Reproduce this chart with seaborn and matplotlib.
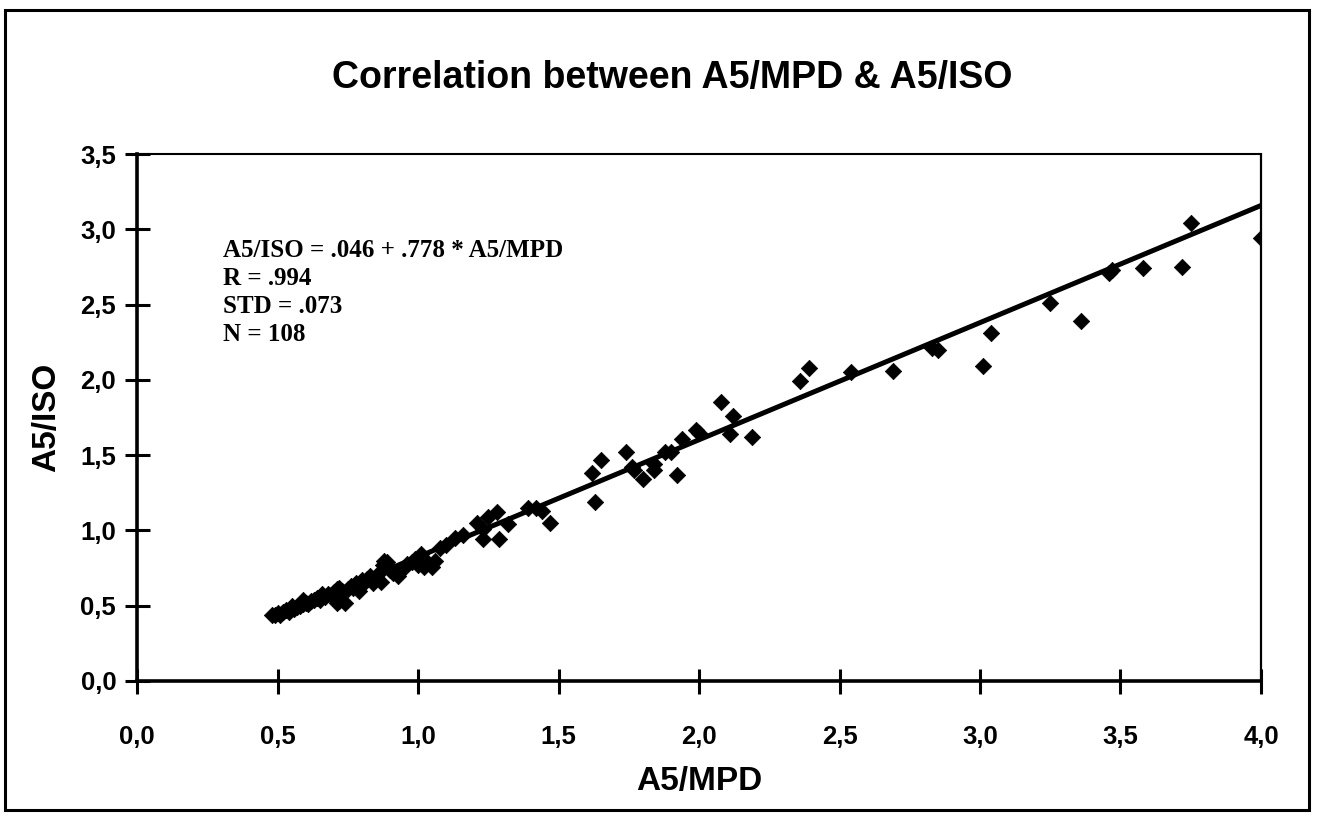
import matplotlib
matplotlib.use("Agg")
import matplotlib.pyplot as plt
from matplotlib.ticker import FuncFormatter, FixedLocator
from matplotlib.patches import Rectangle
import numpy as np
import pandas as pd
import seaborn as sns

# A5/MPD versus A5/ISO measurements
a5_mpd = [
    4.00, 3.75, 3.72, 3.58, 3.46, 3.47, 3.36, 3.25, 3.04, 3.01,
    2.85, 2.83, 2.69, 2.54, 2.39, 2.36, 2.19, 2.12, 2.11, 2.08,
    2.00, 1.99, 1.94, 1.90, 1.88, 1.92, 1.84, 1.84, 1.80, 1.76,
    1.77, 1.74, 1.65, 1.62, 1.63, 1.47, 1.44, 1.42, 1.39, 1.32,
    1.28, 1.29, 1.25, 1.21, 1.23, 1.23, 1.16, 1.13, 1.10, 1.08,
    1.06, 1.05, 1.03, 1.02, 1.01, 1.00, 0.99, 0.98, 0.96, 0.95,
    0.93, 0.91, 0.90, 0.89, 0.88, 0.875, 0.87, 0.86, 0.85, 0.84,
    0.83, 0.82, 0.81, 0.80, 0.79, 0.79, 0.78, 0.77, 0.76, 0.75,
    0.74, 0.73, 0.72, 0.72, 0.71, 0.71, 0.70, 0.69, 0.68, 0.67,
    0.66, 0.66, 0.65, 0.64, 0.63, 0.62, 0.61, 0.60, 0.59, 0.59,
    0.58, 0.57, 0.56, 0.55, 0.55, 0.54, 0.53, 0.52, 0.51, 0.50,
    0.49, 0.48,
]
a5_iso = [
    2.94, 3.04, 2.75, 2.74, 2.71, 2.73, 2.39, 2.51, 2.31, 2.09,
    2.20, 2.21, 2.06, 2.05, 2.08, 1.99, 1.62, 1.76, 1.64, 1.85,
    1.65, 1.67, 1.61, 1.52, 1.52, 1.37, 1.44, 1.40, 1.34, 1.42,
    1.40, 1.52, 1.47, 1.38, 1.19, 1.05, 1.13, 1.15, 1.15, 1.04,
    1.12, 0.94, 1.09, 1.05, 0.94, 1.01, 0.97, 0.95, 0.90, 0.88,
    0.80, 0.76, 0.80, 0.76, 0.84, 0.77, 0.81, 0.79, 0.78, 0.75,
    0.70, 0.72, 0.74, 0.79, 0.80, 0.77, 0.66, 0.72, 0.69, 0.65,
    0.70, 0.68, 0.66, 0.67, 0.64, 0.60, 0.65, 0.62, 0.63, 0.61,
    0.52, 0.60, 0.53, 0.62, 0.61, 0.52, 0.59, 0.57, 0.58, 0.56,
    0.58, 0.57, 0.54, 0.55, 0.54, 0.53, 0.51, 0.52, 0.51, 0.54,
    0.50, 0.49, 0.48, 0.50, 0.49, 0.46, 0.47, 0.46, 0.44, 0.45,
    0.44, 0.44,
]

# Regression statistics
intercept = 0.046
slope = 0.778
fit_range = [0.49, 4.02]
stats_lines = [
    "A5/ISO = .046 + .778 * A5/MPD",
    "R = .994",
    "STD = .073",
    "N = 108",
]

x_ticks = [0.0, 0.5, 1.0, 1.5, 2.0, 2.5, 3.0, 3.5, 4.0]
y_ticks = [0.0, 0.5, 1.0, 1.5, 2.0, 2.5, 3.0, 3.5]

title = "Correlation between A5/MPD & A5/ISO"
x_label = "A5/MPD"
y_label = "A5/ISO"

sns.set_theme(style="white")
plt.rcParams["font.family"] = ["Liberation Sans", "DejaVu Sans"]
plt.rcParams["text.color"] = "black"
plt.rcParams["axes.labelcolor"] = "black"
plt.rcParams["xtick.color"] = "black"
plt.rcParams["ytick.color"] = "black"

df = pd.DataFrame({"A5/MPD": a5_mpd, "A5/ISO": a5_iso})
fit_x = np.array(fit_range)
fit_df = pd.DataFrame({"x": fit_x, "y": intercept + slope * fit_x})

fig = plt.figure(figsize=(13.2, 8.17), dpi=100)
fig.patch.set_facecolor("white")
ax = fig.add_axes([0.1038, 0.1665, 0.8515, 0.645])

sns.lineplot(data=fit_df, x="x", y="y", ax=ax, color="black", lw=3.6, zorder=2)
sns.scatterplot(data=df, x="A5/MPD", y="A5/ISO", ax=ax, marker="D", s=70,
                color="black", edgecolor="black", linewidth=0.5, zorder=3)

ax.set_xlim(0, 4.0)
ax.set_ylim(0, 3.5)
ax.xaxis.set_major_locator(FixedLocator(x_ticks))
ax.yaxis.set_major_locator(FixedLocator(y_ticks))
comma = FuncFormatter(lambda v, p: f"{v:.1f}".replace(".", ","))
ax.xaxis.set_major_formatter(comma)
ax.yaxis.set_major_formatter(comma)

ax.tick_params(axis="both", which="major", bottom=True, left=True,
               top=False, right=False, direction="inout", length=18,
               width=2.2, color="black", labelsize=18.5, labelcolor="black")
ax.tick_params(axis="x", pad=23)
ax.tick_params(axis="y", pad=6)
for lab in ax.get_xticklabels() + ax.get_yticklabels():
    lab.set_fontweight("bold")

for side in ["left", "bottom"]:
    ax.spines[side].set_linewidth(2.6)
    ax.spines[side].set_color("black")
ax.spines["top"].set_linewidth(1.5)
ax.spines["top"].set_color("black")
ax.spines["right"].set_linewidth(1.6)
ax.spines["right"].set_linestyle((0, (1, 1)))
ax.spines["right"].set_color("black")

ax.set_xlabel(x_label, fontsize=24, fontweight="bold", labelpad=12)
ax.set_ylabel(y_label, fontsize=24, fontweight="bold", labelpad=13)

ax.text(0.0765, 0.838, "\n".join(stats_lines), transform=ax.transAxes,
        ha="left", va="top", fontsize=18, fontweight="bold",
        family=["Liberation Serif", "DejaVu Serif"], linespacing=1.28)

fig.text(0.509, 0.905, title, ha="center", va="center", fontsize=27,
         fontweight="bold")

# Outer frame around the whole chart
fig.patches.append(Rectangle((0.004, 0.009), 0.988, 0.979,
                             transform=fig.transFigure, fill=False,
                             edgecolor="black", linewidth=2.2))

fig.savefig("out.png", dpi=100, facecolor="white")
